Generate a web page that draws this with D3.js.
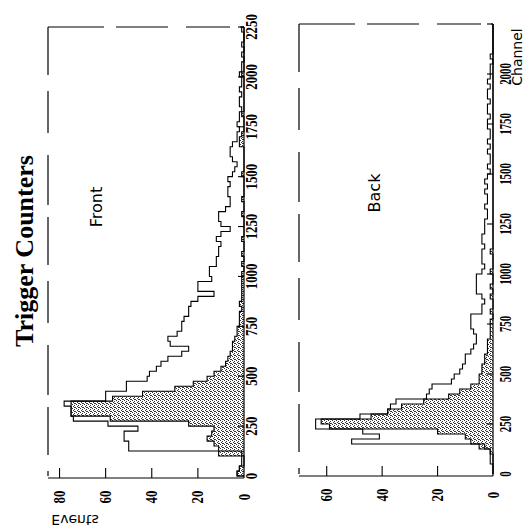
<!DOCTYPE html>
<html>
<head>
<meta charset="utf-8">
<script src="https://cdn.jsdelivr.net/npm/d3@7"></script>
<style>
  html, body { margin: 0; padding: 0; background: #fff; }
  svg { display: block; }
</style>
</head>
<body>
<script>
// Trigger counter channel spectra, 25-channel bins starting at channel 0
const binWidth = 25;
const channelTicks = [0, 250, 500, 750, 1000, 1250, 1500, 1750, 2000, 2250];
const frontEventTicks = [0, 20, 40, 60, 80];
const backEventTicks = [0, 20, 40, 60];

// Front counter: all events (open) and selected events (stippled)
const frontAll = [
  3, 2, 1, 1, 1, 50, 50, 52, 52, 46,
  59, 74, 75, 75, 78, 60, 60, 51, 51, 42,
  41, 38, 36, 33, 27, 24, 32, 33, 29, 27,
  27, 26, 24, 24, 23, 20, 13, 20, 20, 14,
  15, 15, 12, 12, 11, 11, 10, 12, 10, 6,
  10, 11, 11, 8, 6, 6, 7, 7, 6, 7,
  5, 4, 3, 5, 6, 6, 5, 3, 3, 2,
  3, 2, 2, 1, 2, 2, 1, 2, 1, 1,
  2, 1, 1, 0, 1, 0, 1, 0, 0, 1
];
const frontSel = [
  3, 2, 0, 0, 11, 11, 13, 16, 14, 13,
  24, 58, 75, 75, 75, 57, 44, 30, 22, 16,
  13, 10, 8, 7, 6, 5, 5, 4, 3, 3,
  2, 2, 2, 1, 2, 1, 1, 1, 1, 1,
  1, 0, 1, 0, 1, 0, 0, 1, 0, 0,
  0, 0, 1, 0, 0, 1, 0, 0, 0, 0,
  1, 0, 0, 0, 0, 0, 2, 2, 1, 0,
  0, 0, 1, 0, 0, 0, 0, 0, 0, 0,
  1, 0, 0, 0, 0, 0, 0, 0, 0, 0
];

// Back counter
const backAll = [
  0, 0, 1, 1, 1, 3, 51, 41, 47, 64,
  64, 48, 38, 37, 35, 24, 23, 22, 15, 14,
  12, 11, 10, 10, 8, 7, 6, 6, 7, 8,
  8, 8, 4, 4, 3, 4, 6, 6, 6, 6,
  4, 3, 4, 4, 4, 3, 4, 4, 3, 3,
  3, 2, 2, 3, 2, 2, 3, 2, 3, 2,
  1, 2, 1, 1, 2, 1, 2, 1, 1, 2,
  2, 1, 2, 2, 1, 2, 2, 1, 2, 1,
  1, 1, 0, 1, 0, 0, 0, 0, 0, 0
];
const backSel = [
  0, 0, 0, 0, 1, 5, 8, 10, 20, 59,
  62, 44, 38, 33, 25, 16, 12, 8, 5, 5,
  4, 4, 3, 3, 2, 2, 2, 1, 1, 1,
  1, 0, 1, 0, 0, 1, 0, 1, 0, 0,
  1, 0, 0, 0, 1, 0, 0, 0, 0, 0,
  0, 0, 0, 0, 0, 0, 0, 0, 0, 0,
  0, 0, 0, 0, 0, 0, 0, 0, 0, 0,
  0, 0, 0, 0, 0, 0, 0, 0, 0, 0,
  0, 0, 0, 0, 0, 0, 0, 0, 0, 0
];

const W = 526, H = 532;
const svg = d3.select("body").append("svg")
  .attr("width", W).attr("height", H)
  .attr("viewBox", `0 0 ${W} ${H}`);

svg.append("rect").attr("width", W).attr("height", H).attr("fill", "#fff");

// stipple fill for the selected-event histograms: dark dots on white
const defs = svg.append("defs");
const pat = defs.append("pattern")
  .attr("id", "stipple")
  .attr("patternUnits", "userSpaceOnUse")
  .attr("width", 4).attr("height", 4);
pat.append("rect").attr("width", 4).attr("height", 4).attr("fill", "#fff");
[[0, 0], [2, 1], [1, 2], [3, 3], [2, 3]].forEach(([x, y]) =>
  pat.append("rect").attr("x", x).attr("y", y).attr("width", 1).attr("height", 1).attr("fill", "#333"));

const serif = "'Liberation Serif', 'Times New Roman', serif";
const sans = "'DejaVu Sans', sans-serif";

// The page is laid out sideways: channel runs upward, event counts run leftward.
function panel(cfg) {
  const { xScale, yScale, all, sel, eventTicks, chanLabelX, eventLabelY, labelSqueeze, name, nameX, nameY } = cfg;
  const g = svg.append("g");

  const x0 = xScale(0);
  const xMax = xScale(xScale.domain()[1]);
  const y0 = yScale(0);
  const yTop = yScale(2250);

  const steps = vals => {
    const pts = [{ c: 0, v: 0 }];
    vals.forEach((v, i) => {
      pts.push({ c: i * binWidth, v });
      pts.push({ c: (i + 1) * binWidth, v });
    });
    pts.push({ c: vals.length * binWidth, v: 0 });
    return pts;
  };
  const line = d3.line().x(d => xScale(d.v)).y(d => yScale(d.c));

  // stippled histogram
  g.append("path").attr("d", line(steps(sel)))
    .attr("fill", "url(#stipple)").attr("stroke", "#000").attr("stroke-width", 1.1);
  // open histogram
  g.append("path").attr("d", line(steps(all)))
    .attr("fill", "none").attr("stroke", "#000").attr("stroke-width", 1.1);

  // frame: upper and far edges are broken lines
  g.append("line").attr("x1", xMax).attr("x2", x0).attr("y1", yTop).attr("y2", yTop)
    .attr("stroke", "#000").attr("stroke-width", 1.2).attr("stroke-dasharray", "56,12,52,18,44,10");
  g.append("line").attr("x1", xMax).attr("x2", xMax).attr("y1", yTop).attr("y2", y0)
    .attr("stroke", "#000").attr("stroke-width", 1.2).attr("stroke-dasharray", "48,16,42,22,50,12");

  // channel axis (baseline of histograms)
  g.append("line").attr("x1", x0).attr("x2", x0).attr("y1", yTop).attr("y2", y0 + 2)
    .attr("stroke", "#000").attr("stroke-width", 1.2);
  // event axis
  g.append("line").attr("x1", xMax).attr("x2", x0).attr("y1", y0 + 2).attr("y2", y0 + 2)
    .attr("stroke", "#000").attr("stroke-width", 1.2);

  // channel ticks (inward) and labels
  channelTicks.forEach(c => {
    if (c > 0) {
      g.append("line").attr("x1", x0 - 6).attr("x2", x0).attr("y1", yScale(c)).attr("y2", yScale(c))
        .attr("stroke", "#000").attr("stroke-width", 1.1);
    }
    if (c <= cfg.maxChanLabel) {
      g.append("text")
        .attr("transform", `translate(${chanLabelX},${yScale(c)}) rotate(-90) scale(${labelSqueeze},1)`)
        .attr("text-anchor", "middle").attr("dy", "0.35em")
        .attr("font-family", serif).attr("font-weight", "bold").attr("font-size", 16)
        .text(c);
    }
  });

  // event ticks (inward) and labels
  eventTicks.forEach(e => {
    if (e > 0) {
      g.append("line").attr("x1", xScale(e)).attr("x2", xScale(e)).attr("y1", y0 + 2).attr("y2", y0 - 8)
        .attr("stroke", "#000").attr("stroke-width", 1.1);
    }
    g.append("text")
      .attr("transform", `translate(${xScale(e)},${eventLabelY}) rotate(-90) scale(0.8,1)`)
      .attr("text-anchor", "middle").attr("dy", "0.35em")
      .attr("font-family", serif).attr("font-weight", "bold").attr("font-size", 16)
      .text(e);
  });

  g.append("text")
    .attr("transform", `translate(${nameX},${nameY}) rotate(-90)`)
    .attr("text-anchor", "middle").attr("dy", "0.35em")
    .attr("font-family", sans).attr("font-size", 16)
    .text(name);
}

const frontY = d3.scaleLinear().domain([0, 2250]).range([476, 27]);
const frontX = d3.scaleLinear().domain([0, 85]).range([244, 48]);
const backY = d3.scaleLinear().domain([0, 2250]).range([474, 24]);
const backX = d3.scaleLinear().domain([0, 70]).range([493, 299]);

panel({
  xScale: frontX, yScale: frontY, all: frontAll, sel: frontSel,
  eventTicks: frontEventTicks, chanLabelX: 251, eventLabelY: 497, maxChanLabel: 2250, labelSqueeze: 0.8,
  name: "Front", nameX: 96, nameY: 207
});
panel({
  xScale: backX, yScale: backY, all: backAll, sel: backSel,
  eventTicks: backEventTicks, chanLabelX: 505, eventLabelY: 495, maxChanLabel: 2000, labelSqueeze: 0.68,
  name: "Back", nameX: 374, nameY: 193
});

// title
svg.append("text")
  .attr("transform", "translate(33,251) rotate(-90)")
  .attr("text-anchor", "middle")
  .attr("font-family", serif).attr("font-weight", "bold").attr("font-size", 26)
  .text("Trigger Counters");

// axis titles
svg.append("text")
  .attr("transform", "translate(518,57) rotate(-90)")
  .attr("text-anchor", "middle").attr("dy", "0.32em")
  .attr("font-family", sans).attr("font-size", 14)
  .text("Channel");

svg.append("text")
  .attr("transform", "translate(75,520) scale(1,-1)")
  .attr("text-anchor", "middle").attr("dy", "0.35em")
  .attr("font-family", sans).attr("font-size", 14)
  .text("Events");
</script>
</body>
</html>
